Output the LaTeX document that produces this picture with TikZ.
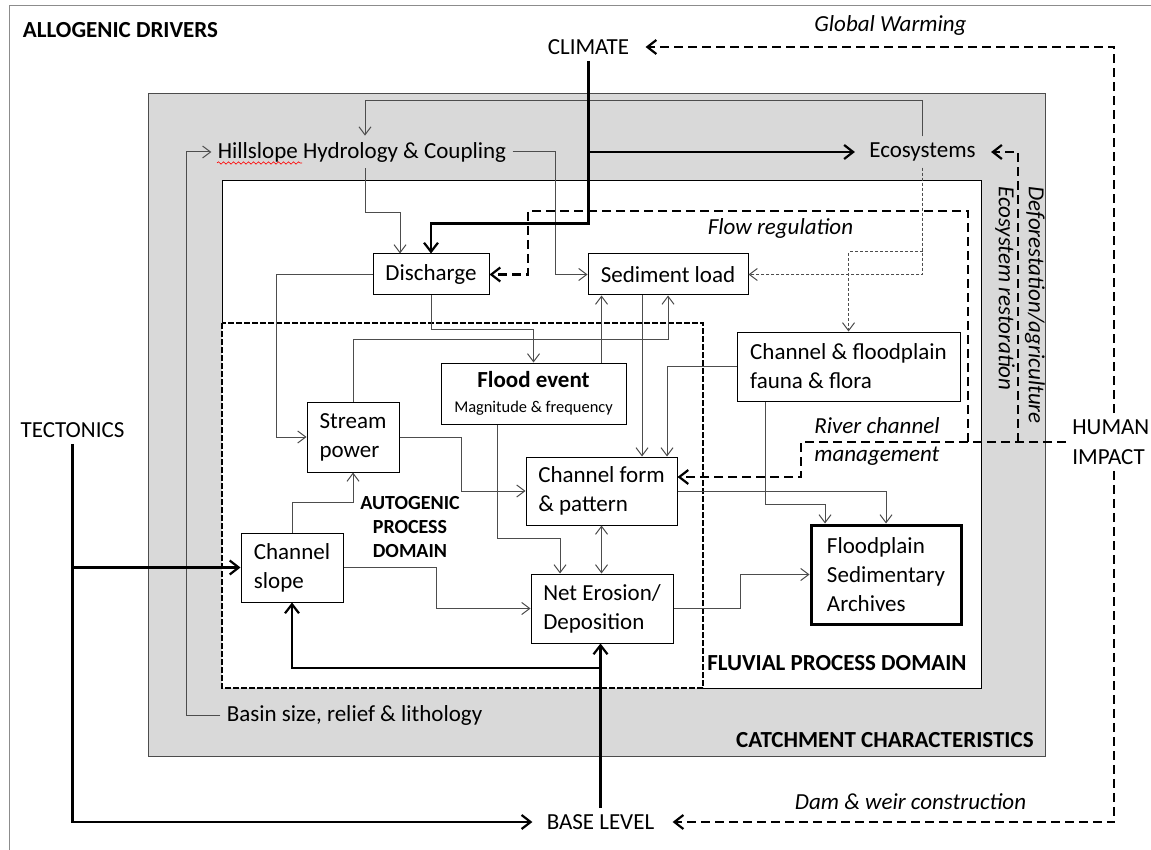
\documentclass[tikz,border=0pt]{standalone}
\usepackage{fontspec}
\setmainfont{Carlito}
\usetikzlibrary{arrows.meta,decorations.pathmorphing}

\definecolor{catchfill}{HTML}{D9D9D9}
\definecolor{linegray}{HTML}{4D4D4D}
\definecolor{framegray}{HTML}{8C8C8C}

\tikzset{
  procbox/.style={draw, fill=white, line width=0.5pt, inner sep=0pt, align=left},
  lbl/.style={inner sep=3pt},
  title/.style={lbl, font=\fontsize{11.5}{14.5}\selectfont\bfseries},
  note/.style={lbl, font=\fontsize{11.5}{14.5}\selectfont\itshape},
  link/.style={draw=linegray, line width=0.5pt, >={Straight Barb[length=4pt,width=6pt]}, ->},
  strong/.style={draw=black, line width=1.1pt, >={Straight Barb[length=4.5pt,width=7pt]}, ->},
  human/.style={draw=black, line width=1.1pt, dash pattern=on 4.5pt off 2.5pt, >={Straight Barb[length=4.5pt,width=7pt]}, ->},
  eco/.style={draw=linegray, line width=0.5pt, dash pattern=on 1.5pt off 1pt, >={Straight Barb[length=4pt,width=6pt]}, ->},
}

\begin{document}
\begin{tikzpicture}[x=0.5pt, y=-0.5pt, font=\fontsize{11.5}{14.5}\selectfont]
  \useasboundingbox (0,0) rectangle (1151,850);
  % outer frame
  \draw[framegray, line width=0.5pt] (9,850) -- (9,6) -- (1151,6);
  % catchment, fluvial and autogenic domains
  \draw[fill=catchfill, draw=gray!60!black, line width=0.5pt] (148,94) rectangle (1045,756);
  \fill[white] (222,181) rectangle (981,688);
  \draw[line width=0.5pt] (222,323) -- (222,181) -- (981,181) -- (981,688) -- (703,688);
  \draw[line width=0.8pt, dash pattern=on 3pt off 1pt] (222,323) rectangle (703,688);

  % domain titles
  \node[title] (allogenic) at (120.5,30) {ALLOGENIC DRIVERS};
  \node[title, anchor=east] (catchment) at (1040,740) {CATCHMENT CHARACTERISTICS};
  \node[title, anchor=east] (fluvial) at (973,663) {FLUVIAL PROCESS DOMAIN};
  \node[lbl, align=center, font=\fontsize{10}{12}\selectfont\bfseries] (autogenic) at (410,527) {AUTOGENIC\\PROCESS\\DOMAIN};

  % allogenic drivers
  \node[lbl] (climate) at (588.5,47) {CLIMATE};
  \node[lbl] (tectonics) at (72.5,430) {TECTONICS};
  \node[lbl] (baselevel) at (600.5,822) {BASE LEVEL};
  \node[lbl, align=left, anchor=west, font=\fontsize{11.5}{15}\selectfont] (human) at (1066,442) {HUMAN\\IMPACT};

  % catchment characteristics
  \node[lbl] (hillslope) at (362,152) {Hillslope Hydrology \& Coupling};
  \node[lbl] (ecosys) at (922.5,152) {Ecosystems};
  \node[lbl] (basin) at (354.5,715) {Basin size, relief \& lithology};
  \draw[red, line width=0.3pt, decorate, decoration={snake, amplitude=0.6pt, segment length=2.5pt}] (217,163) -- (302,163);

  % human impact notes
  \node[note] (global) at (890.5,25) {Global Warming};
  \node[note] (flowreg) at (780.5,228) {Flow regulation};
  \node[note, align=left, anchor=west, font=\fontsize{11.5}{14}\selectfont\itshape] (riverch) at (808,441) {River channel\\management};
  \node[note] (dam) at (910.5,802) {Dam \& weir construction};
  \node[note, rotate=-90, align=left, font=\fontsize{11.5}{15}\selectfont\itshape] (forest) at (1020,305) {Deforestation/agriculture\\Ecosystem restoration};

  % process boxes
  \node[procbox, align=center, minimum width=58pt, minimum height=20.5pt] (discharge) at (431,274.5) {Discharge};
  \node[procbox, align=center, minimum width=80pt, minimum height=20.5pt] (sediment) at (668,274.5) {Sediment load};
  \node[procbox, align=center, minimum width=92.5pt, minimum height=30.5pt] (flood) at (533.5,393.5) {\textbf{Flood event}\\[-2pt]{\fontsize{8.2}{10}\selectfont Magnitude \& frequency}};
  \node[procbox, minimum width=46pt, minimum height=35pt] (stream) at (353,437) {Stream\\power};
  \node[procbox, minimum width=75.5pt, minimum height=34pt] (chform) at (601.5,491) {Channel form\\\& pattern};
  \node[procbox, minimum width=51pt, minimum height=34.5pt] (slope) at (292,567.5) {Channel\\slope};
  \node[procbox, minimum width=71pt, minimum height=34.5pt] (erosion) at (602,608.5) {Net Erosion/\\Deposition};
  \node[procbox, minimum width=111.5pt, minimum height=34.5pt] (fauna) at (848.5,366.5) {Channel \& floodplain\\fauna \& flora};
  \node[procbox, line width=1.5pt, minimum width=75pt, minimum height=49.5pt] (archive) at (886,574.5) {Floodplain\\Sedimentary\\Archives};

  % thin links
  \draw[link] (ecosys.north) |- (365,101) -- ([xshift=1.5pt]hillslope.north);
  \draw[link] (hillslope.east) -| ([xshift=-16pt]sediment.west) -- (sediment.west);
  \draw[link] ([xshift=1.5pt]hillslope.south) |- (400,213) -- ([xshift=-15.5pt]discharge.north);
  \draw[link] (discharge.west) -| ([xshift=-15pt]stream.west) -- (stream.west);
  \draw[link] (discharge.south) -- ++(0,33.5) -| (flood.north);
  \draw[link] (stream.north) -- ++(0,-62) -| (sediment.south);
  \coordinate (floodup) at ([xshift=34pt]flood.north);
  \draw[link] (floodup) -- (floodup |- sediment.south);
  \coordinate (sedown) at ([xshift=-13pt]sediment.south);
  \draw[link] (sedown) -- (sedown |- chform.north);
  \draw[link] (fauna.west) -| ([xshift=32.75pt]chform.north);
  \draw[link] ([xshift=-41.75pt]fauna.south) |- (825,504) -- ([xshift=-30.5pt]archive.north);
  \draw[link] (chform.east) -| (archive.north);
  \draw[link] (stream.east) -| ([xshift=-32pt]chform.west) -- (chform.west);
  \draw[link] (slope.north) -- ++(0,-30) -| (stream.south);
  \draw[link] ([xshift=-18.25pt]flood.south) -- ++(0,114) -| ([xshift=-21pt]erosion.north);
  \draw[link, <->] (chform.south) -- (chform.south |- erosion.north);
  \draw[link] (slope.east) -| ([xshift=-47pt]erosion.west) -- (erosion.west);
  \draw[link] (erosion.east) -| ([xshift=-34.5pt]archive.west) -- (archive.west);
  \draw[link] (basin.west) -| (186,152) -- (hillslope.west);

  % allogenic links
  \draw[strong] (climate.south) |- ([yshift=15pt]discharge.north) -- (discharge.north);
  \coordinate (climjn) at (climate.south |- ecosys.west);
  \draw[strong] (climjn) -- ([xshift=-4pt]ecosys.west);
  \draw[strong] (tectonics.south) |- ([xshift=-4pt]baselevel.west);
  \coordinate (tectjn) at (tectonics.south |- slope.west);
  \draw[strong] (tectjn) -- (slope.west);
  \draw[strong] (baselevel.north) -- (baselevel.north |- erosion.south);
  \coordinate (basejn) at (600.5,668);
  \draw[strong] (basejn) -| (slope.south);

  % human impact links
  \draw[human] ([xshift=1.75pt]human.north) |- ([xshift=5pt]climate.east);
  \draw[human] ([xshift=1.75pt]human.south) |- ([xshift=6pt]baselevel.east);
  \draw[human] (human.west) -| (801,477) -- ([yshift=7pt]chform.east);
  \coordinate (ecojn) at (1018,442);
  \draw[human] (ecojn) |- ([xshift=4.5pt]ecosys.east);
  \coordinate (flowjn) at (968,442);
  \draw[human] (flowjn) |- (528,211) |- (discharge.east);

  % ecosystem links
  \draw[eco] (ecosys.south) |- (sediment.east);
  \coordinate (faunajn) at (922.5,252);
  \draw[eco] (faunajn) -| (fauna.north);
\end{tikzpicture}
\end{document}
